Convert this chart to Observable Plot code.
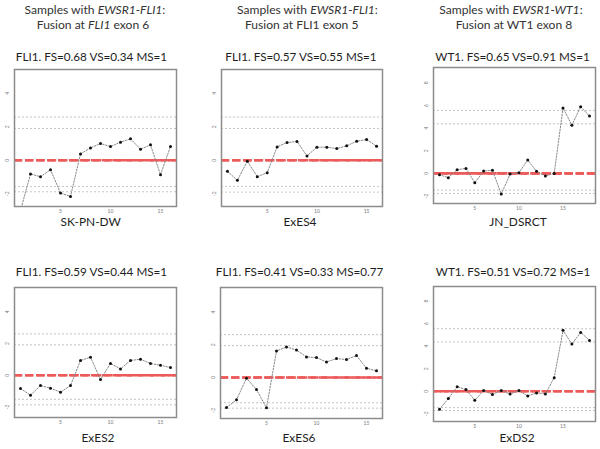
<!DOCTYPE html>
<html><head><meta charset="utf-8">
<script src="https://cdn.jsdelivr.net/npm/d3@7"></script>
<script src="https://cdn.jsdelivr.net/npm/@observablehq/plot@0.6"></script>
<style>
body{margin:0;background:#fff;}
#root{position:relative;width:600px;height:449px;overflow:hidden;font-family:Lato,"Open Sans",sans-serif;color:#1e1e1e;}
.t{position:absolute;white-space:nowrap;transform:translate(-50%,-50%);line-height:1;font-size:12px;}
svg{position:absolute;overflow:visible;}
</style></head><body><div id="root"></div><script>
// ---- data ----
const headerFusion = ["EWSR1-FLI1", "EWSR1-FLI1", "EWSR1-WT1"];
const headerLine2 = ['Fusion at <i>FLI1</i> exon 6', 'Fusion at FLI1 exon 5', 'Fusion at WT1 exon 8'];
const samples = ["SK-PN-DW", "ExES4", "JN_DSRCT", "ExES2", "ExES6", "ExDS2"];
const genes = ["FLI1", "FLI1", "WT1", "FLI1", "FLI1", "WT1"];
const fsScores = ["0.68", "0.57", "0.65", "0.59", "0.41", "0.51"];
const vsScores = ["0.34", "0.55", "0.91", "0.44", "0.33", "0.72"];
const msScores = ["1", "1", "1", "1", "0.77", "1"];

const skpndw = [-3.0,-0.82,-0.98,-0.56,-1.96,-2.16,0.38,0.74,1.0,0.82,1.08,1.28,0.66,0.92,-0.86,0.82];
const exes4 = [-0.66,-1.2,-0.06,-0.98,-0.74,0.8,1.06,1.12,0.26,0.78,0.78,0.7,0.86,1.14,1.24,0.84];
const jnDsrct = [-0.12,-0.38,0.33,0.44,-0.83,0.21,0.27,-1.83,-0.06,0.06,1.18,0.18,-0.24,0.0,5.77,4.26,5.89,5.06];
const exes2 = [-0.84,-1.26,-0.65,-0.82,-1.07,-0.65,0.93,1.14,-0.27,0.74,0.4,0.93,1.01,0.74,0.63,0.48];
const exes6 = [-1.83,-1.36,-0.04,-0.73,-1.85,1.62,1.87,1.68,1.26,1.22,0.95,1.16,1.1,1.34,0.57,0.41];
const exds2 = [-1.59,-0.65,0.41,0.15,-0.8,0.06,-0.29,0.06,-0.24,0.06,-0.41,-0.15,-0.24,1.21,5.4,4.19,5.22,4.51];

const thrSkpndw = [2.58, 1.9, -1.56, -1.88];
const thrExes4 = [2.58, 1.9, -1.56, -1.9];
const thrJnDsrct = [5.56, 4.38, -1.48, -1.78];
const thrExes2 = [2.61, 1.92, -1.52, -1.87];
const thrExes6 = [2.62, 1.95, -1.54, -1.87];
const thrExds2 = [5.55, 4.37, -1.45, -1.71];

const yTicksFli = [-2, 0, 2, 4];
const yTicksWt = [-2, 0, 2, 4, 6, 8];
const xTicks = [5, 10, 15];
const baseline = [0];

// ---- layout ----
const root = document.getElementById("root");
function addText(html, x, y, color) {
  const d = document.createElement("div");
  d.className = "t";
  d.innerHTML = html;
  d.style.left = x + "px"; d.style.top = y + "px";
  if (color) d.style.color = color;
  root.appendChild(d);
  return d;
}
// fit a group of texts to one common font size from their target widths
function fitGroup(els, targets) {
  let s = 0;
  els.forEach((d, k) => { s += targets[k] / d.getBoundingClientRect().width; });
  const fs = 12 * s / els.length;
  els.forEach(d => d.style.fontSize = fs + "px");
  return fs;
}
const headerX = [[95, 93], [307.5, 301.7], [511, 514]];
const headerEls = [], headerTargets = [143, 110, 145, 117, 138, 115];
headerFusion.forEach((f, i) => {
  headerEls.push(addText('Samples with <i>' + f + '</i>:', headerX[i][0], 10, "#333"));
  headerEls.push(addText(headerLine2[i], headerX[i][1], 24.8, "#333"));
});
fitGroup(headerEls, headerTargets);

const series = [skpndw, exes4, jnDsrct, exes2, exes6, exds2];
const thresholds = [thrSkpndw, thrExes4, thrJnDsrct, thrExes2, thrExes6, thrExds2];
const boxes = [[14,69,176,206],[221,69,382,206],[433,67,595,203],[14,287,176,417],[220,287,382,418],[433,286,595,421]];
const yDomains = [[-2.76,5.42],[-2.76,5.42],[-2.66,9.35],[-2.67,5.54],[-2.5,5.5],[-2.68,9.29]];
const titleY = [56.8, 56.8, 56.8, 271.5, 271.5, 271.5];
const titleX = [91.5, 301, 512.5, 91.5, 299.6, 513];
const titleTargets = [149, 157, 153, 150.7, 167, 154];
const labelY = [221.7, 221.7, 221.7, 438, 438, 438];
const labelX = [90.7, 300, 518, 98, 299, 517];
const titleEls = [], labelEls = [];

series.forEach((vals, i) => {
  const wt = genes[i] === "WT1";
  const pts = vals.map((v, j) => ({idx: j + 1, v}));
  const n = vals.length;
  const xDomain = [1 - 0.04 * (n - 1), n + 0.04 * (n - 1)];
  const [bx0, by0, bx1, by1] = boxes[i];
  const mL = 14, mR = 2, mT = 2, mB = 14;
  const rx1 = wt ? xDomain[1] : xDomain[0];
  const rx2 = wt ? xDomain[0] : xDomain[1];
  const chart = Plot.plot({
    width: bx1 - bx0 + mL + mR,
    height: by1 - by0 + mT + mB,
    marginLeft: mL, marginRight: mR, marginTop: mT, marginBottom: mB,
    style: {fontSize: "5px", color: "#777", background: "transparent", fontFamily: "Lato, sans-serif"},
    x: {domain: xDomain, ticks: xTicks, tickSize: 0, tickPadding: 3, label: null, tickFormat: d => String(d)},
    y: {domain: yDomains[i], ticks: wt ? yTicksWt : yTicksFli, tickSize: 0, tickPadding: 6, tickRotate: -90, label: null, tickFormat: d => String(d)},
    marks: [
      Plot.ruleY(thresholds[i], {stroke: "#c4c4c4", strokeWidth: 1, strokeDasharray: "2,2"}),
      Plot.ruleY(baseline, {x1: rx1, x2: rx2, stroke: "#ec5a5a", strokeWidth: 2.6, strokeDasharray: "8,3"}),
      Plot.ruleY(baseline, {x1: rx1, x2: rx2, stroke: "#ec5a5a", strokeWidth: 2.6, strokeDasharray: "8.3,3"}),
      Plot.line(pts, {x: "idx", y: "v", stroke: "#888", strokeWidth: 1, strokeDasharray: "1.5,1.5", clip: true}),
      Plot.dot(pts, {x: "idx", y: "v", r: 1.5, fill: "#111", stroke: null, clip: true}),
      Plot.frame({stroke: "#8c8c8c", strokeWidth: 1.5})
    ]
  });
  chart.style.left = (bx0 - mL) + "px";
  chart.style.top = (by0 - mT) + "px";
  root.appendChild(chart);
  titleEls.push(addText(genes[i] + ". FS=" + fsScores[i] + " VS=" + vsScores[i] + " MS=" + msScores[i], titleX[i], titleY[i]));
  labelEls.push(addText(samples[i], labelX[i], labelY[i]));
});
const titleFs = fitGroup(titleEls, titleTargets);
labelEls.forEach(d => d.style.fontSize = (titleFs * 1.02) + "px");
</script></body></html>
